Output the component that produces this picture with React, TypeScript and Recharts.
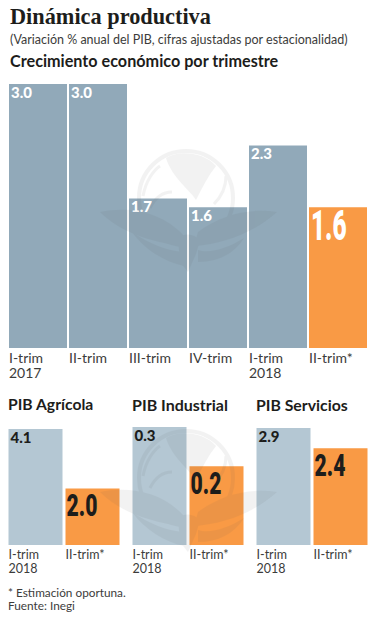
import React from 'react';
import { BarChart, Bar, XAxis, YAxis, Cell, LabelList } from 'recharts';

const quarterLabels = ['I-trim\n2017', 'II-trim', 'III-trim', 'IV-trim', 'I-trim\n2018', 'II-trim*'];
const quarterValues = [3.0, 3.0, 1.7, 1.6, 2.3, 1.6];

const sectorLabels = ['I-trim\n2018', 'II-trim*'];
const agricolaValues = [4.1, 2.0];
const industrialValues = [0.3, 0.2];
const serviciosValues = [2.9, 2.4];

const SANS = 'Lato, "Open Sans", sans-serif';
const GREY_DARK = '#91a9b9';
const GREY_LIGHT = '#b4c7d3';
const ORANGE = '#f99a45';
const INK = '#1d1d1b';

// left-aligned two line tick, the label sits under the left edge of the bar
const LeftTick = ({ x, y, payload, offset, size, lineGap, top }: any) => {
  const lines = String(payload.value).split('\n');
  return (
    <text x={x - offset} y={y + top} fill="#3c3c3b" fontFamily={SANS} fontSize={size}>
      {lines.map((line, i) => (
        <tspan key={i} x={x - offset} dy={i === 0 ? 0 : lineGap}>
          {line}
        </tspan>
      ))}
    </text>
  );
};

const ValueLabel = ({ x, y, value, index, bigIndex, smallFill, bigFill, bigSize, bigDrop, smallSize, bigDx, scaleX }: any) => {
  const txt = Number(value).toFixed(1);
  if (index === bigIndex) {
    const px = x + bigDx;
    const py = y + bigDrop;
    return (
      <text
        transform={`translate(${px} ${py}) scale(${scaleX} 1)`}
        fill={bigFill}
        fontFamily="Roboto, sans-serif"
        fontWeight={900}
        fontSize={bigSize}
      >
        {txt}
      </text>
    );
  }
  return (
    <text x={x + 2} y={y + 13.5} fill={smallFill} fontFamily={SANS} fontWeight={900} fontSize={smallSize}>
      {txt}
    </text>
  );
};

const QuarterChart = () => {
  const data = quarterLabels.map((name, i) => ({ name, value: quarterValues[i] }));
  return (
    <div style={{ position: 'absolute', left: 8, top: 84 }}>
      <BarChart width={360} height={304} data={data} margin={{ top: 0, right: 0, bottom: 0, left: 0 }} barCategoryGap={1}>
        <XAxis
          dataKey="name"
          interval={0}
          axisLine={false}
          tickLine={false}
          height={40}
          tick={<LeftTick offset={29} size={14} lineGap={15} top={7} />}
        />
        <YAxis hide domain={[0, 3]} />
        <Bar dataKey="value" isAnimationActive={false}>
          {data.map((_, i) => (
            <Cell key={i} fill={i === 5 ? ORANGE : GREY_DARK} />
          ))}
          <LabelList
            dataKey="value"
            content={
              <ValueLabel bigIndex={5} smallFill="#ffffff" bigFill="#ffffff" bigSize={42} bigDrop={33} smallSize={15} bigDx={2} scaleX={0.58} />
            }
          />
        </Bar>
      </BarChart>
    </div>
  );
};

const SectorChart = ({ values, left, top, plotHeight }: { values: number[]; left: number; top: number; plotHeight: number }) => {
  const data = sectorLabels.map((name, i) => ({ name, value: values[i] }));
  return (
    <div style={{ position: 'absolute', left, top }}>
      <BarChart width={114} height={plotHeight + 36} data={data} margin={{ top: 0, right: 0, bottom: 0, left: 0 }} barCategoryGap={1.5}>
        <XAxis
          dataKey="name"
          interval={0}
          axisLine={false}
          tickLine={false}
          height={36}
          tick={<LeftTick offset={27} size={12.5} lineGap={14} top={6} />}
        />
        <YAxis hide domain={[0, values[0]]} />
        <Bar dataKey="value" isAnimationActive={false}>
          {data.map((_, i) => (
            <Cell key={i} fill={i === 1 ? ORANGE : GREY_LIGHT} />
          ))}
          <LabelList
            dataKey="value"
            content={
              <ValueLabel bigIndex={1} smallFill={INK} bigFill={INK} bigSize={32} bigDrop={28} smallSize={15} bigDx={1} scaleX={0.66} />
            }
          />
        </Bar>
      </BarChart>
    </div>
  );
};

// faint newspaper eagle and globe that sits over the charts
const Watermark = ({ dy }: { dy: number }) => (
  <g transform={`translate(0 ${dy})`} opacity={0.07} fill="#555">
    <circle cx={186} cy={198} r={47} fill="none" stroke="#555" strokeWidth={4} />
    <path d="M166 158 C178 150 204 152 216 166 C208 176 202 188 196 200 C192 192 172 178 166 158 Z" />
    <path d="M143 196 C146 180 154 170 160 166 M150 208 C156 196 164 192 172 192 M214 204 C222 196 226 188 226 176" fill="none" stroke="#555" strokeWidth={3} />
    <path d="M100 212 C130 206 162 212 184 236 L182 246 C150 242 120 232 100 212 Z" />
    <path d="M277 212 C250 208 222 214 198 232 L194 246 C225 244 255 232 277 212 Z" />
    <path d="M132 232 C150 244 165 250 182 252 L184 266 C165 262 145 250 132 232 Z" />
    <path d="M178 238 C186 232 194 234 200 240 L196 254 L188 272 L180 262 Z" />
    <path d="M198 250 C210 254 228 248 244 238 C234 254 218 262 198 262 Z" />
  </g>
);

export default function App() {
  return (
    <div style={{ position: 'absolute', left: 0, top: 0, width: 376, height: 620, background: '#fff', overflow: 'hidden' }}>
      <QuarterChart />
      <SectorChart values={agricolaValues} left={6.5} top={429} plotHeight={116} />
      <SectorChart values={industrialValues} left={130.5} top={427} plotHeight={118} />
      <SectorChart values={serviciosValues} left={254.5} top={428} plotHeight={117} />
      <svg width={376} height={620} style={{ position: 'absolute', left: 0, top: 0, pointerEvents: 'none' }}>
        <Watermark dy={0} />
        <Watermark dy={280} />
        <g fill={INK}>
          <text x={10} y={24} fontFamily='"Liberation Serif", serif' fontWeight={700} fontSize={22.3}>
            Dinámica productiva
          </text>
          <text x={10} y={44} fontFamily={SANS} fontSize={12.5} fill="#3c3c3b">
            (Variación % anual del PIB, cifras ajustadas por estacionalidad)
          </text>
          <text x={10} y={67} fontFamily={SANS} fontWeight={700} fontSize={16.2}>
            Crecimiento económico por trimestre
          </text>
          <text x={8} y={410} fontFamily={SANS} fontWeight={700} fontSize={15.7}>
            PIB Agrícola
          </text>
          <text x={132} y={411} fontFamily={SANS} fontWeight={700} fontSize={16}>
            PIB Industrial
          </text>
          <text x={256} y={411} fontFamily={SANS} fontWeight={700} fontSize={15.8}>
            PIB Servicios
          </text>
          <text x={8} y={597} fontFamily={SANS} fontSize={11.8} fill="#3c3c3b">
            * Estimación oportuna.
          </text>
          <text x={8} y={610} fontFamily={SANS} fontSize={11.8} fill="#3c3c3b">
            Fuente: Inegi
          </text>
        </g>
      </svg>
    </div>
  );
}
